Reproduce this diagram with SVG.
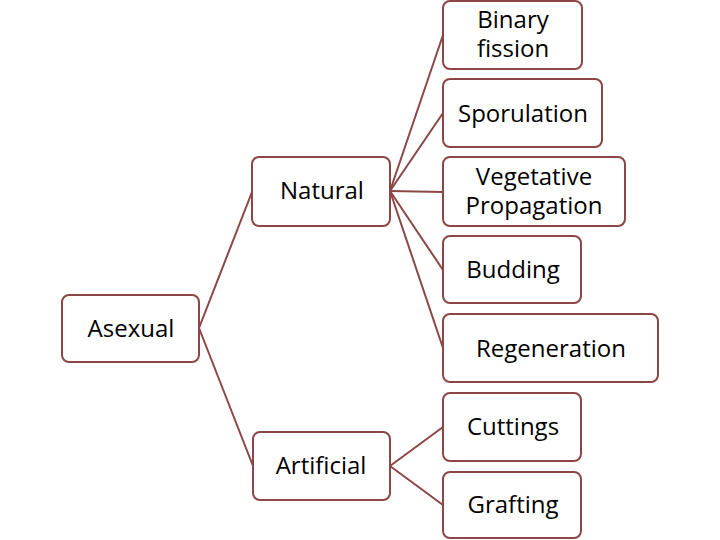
<svg xmlns="http://www.w3.org/2000/svg" width="720" height="540" viewBox="0 0 720 540">
<style>
.box{fill:#fff;stroke:#8c4646;stroke-width:2}
.lnk{stroke:#8c4646;stroke-width:2;fill:none}
text{font-family:"Open Sans","Liberation Sans",sans-serif;font-size:24px;fill:#000;text-anchor:middle}
</style>
<rect width="720" height="540" fill="#fff"/>
<g id="connectors">
<line class="lnk" x1="199" y1="328" x2="252" y2="192"/>
<line class="lnk" x1="199" y1="328" x2="253" y2="466"/>
<line class="lnk" x1="390" y1="191" x2="443" y2="35"/>
<line class="lnk" x1="390" y1="191" x2="443" y2="113"/>
<line class="lnk" x1="390" y1="191" x2="443" y2="192"/>
<line class="lnk" x1="390" y1="191" x2="443" y2="270"/>
<line class="lnk" x1="390" y1="191" x2="443" y2="348"/>
<line class="lnk" x1="390" y1="466" x2="443" y2="427"/>
<line class="lnk" x1="390" y1="466" x2="443" y2="505"/>
</g>
<g id="asexual"><rect class="box" x="62" y="295" width="137" height="67" rx="7"/><text x="131" y="337">Asexual</text></g>
<g id="natural"><rect class="box" x="252" y="157" width="138" height="69" rx="7"/><text x="322" y="199">Natural</text></g>
<g id="artificial"><rect class="box" x="253" y="432" width="137" height="68" rx="7"/><text x="321" y="474">Artificial</text></g>
<g id="binary"><rect class="box" x="443" y="1" width="139" height="68" rx="7"/><text x="513" y="28">Binary</text><text x="513" y="57">fission</text></g>
<g id="sporulation"><rect class="box" x="443" y="79" width="159" height="68" rx="7"/><text x="523" y="122">Sporulation</text></g>
<g id="vegetative"><rect class="box" x="443" y="157" width="182" height="69" rx="7"/><text x="534" y="185">Vegetative</text><text x="534" y="214">Propagation</text></g>
<g id="budding"><rect class="box" x="443" y="236" width="138" height="67" rx="7"/><text x="513" y="278">Budding</text></g>
<g id="regeneration"><rect class="box" x="443" y="314" width="215" height="68" rx="7"/><text x="551" y="357">Regeneration</text></g>
<g id="cuttings"><rect class="box" x="443" y="393" width="138" height="68" rx="7"/><text x="513" y="435">Cuttings</text></g>
<g id="grafting"><rect class="box" x="443" y="472" width="138" height="66" rx="7"/><text x="513" y="513">Grafting</text></g>
</svg>
